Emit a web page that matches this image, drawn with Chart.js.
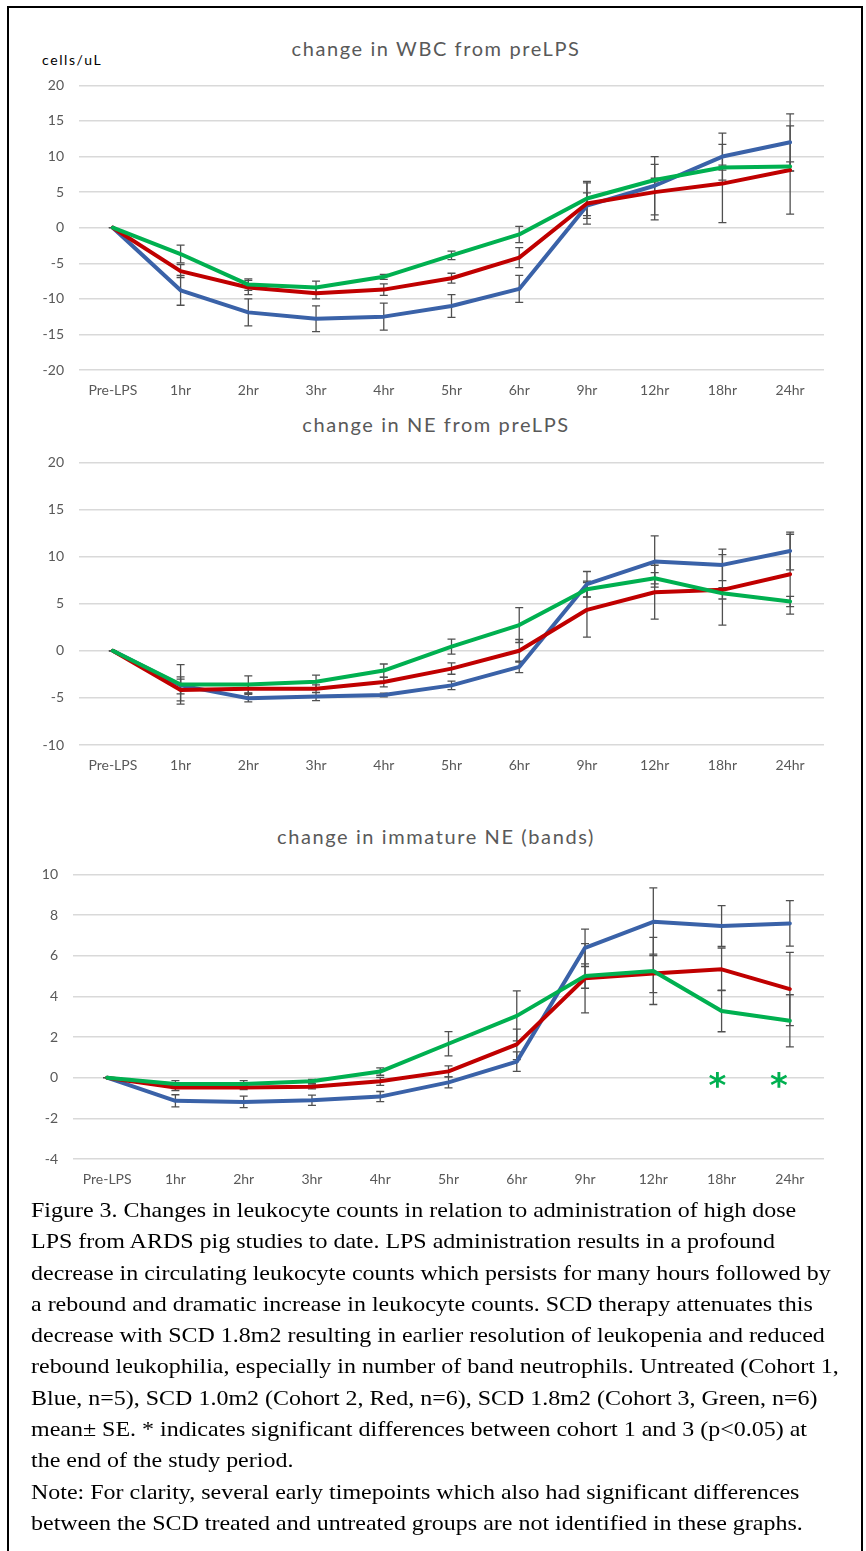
<!DOCTYPE html>
<html>
<head>
<meta charset="utf-8">
<script src="https://cdn.jsdelivr.net/npm/chart.js@4.4.1/dist/chart.umd.min.js"></script>
<style>
  html, body { margin: 0; padding: 0; background: #fff; }
  body { width: 866px; height: 1551px; position: relative; overflow: hidden; }
  .frame { position: absolute; left: 7px; top: 6px; width: 852px; height: 1600px; border: 2px solid #000; }
  canvas { position: absolute; left: 0; }
  .title { position: absolute; left: 0; width: 872px; text-align: center; font-family: Lato, sans-serif;
           font-size: 20px; line-height: 20px; color: #595959; letter-spacing: 1.6px; white-space: nowrap; }
  .unit { position: absolute; left: 42px; top: 53px; font-family: Lato, sans-serif; font-size: 14px;
          line-height: 14px; color: #000; letter-spacing: 1.6px; }
  .caption { position: absolute; left: 31px; top: 1194px; font-family: "Liberation Serif", "Times New Roman", serif;
             font-size: 22px; line-height: 31.3px; color: #000; transform: scaleX(1.09); transform-origin: 0 0; }
  .caption div { white-space: nowrap; }
</style>
</head>
<body>
<div class="frame"></div>

<div class="title" style="top:38px">change in WBC from preLPS</div>
<div class="unit">cells/uL</div>
<canvas id="wbc" width="866" height="348" style="top:62px"></canvas>

<div class="title" style="top:414px">change in NE from preLPS</div>
<canvas id="ne" width="866" height="346" style="top:439px"></canvas>

<div class="title" style="top:826px">change in immature NE (bands)</div>
<canvas id="bands" width="866" height="348" style="top:851px"></canvas>

<div class="caption">
  <div>Figure 3. Changes in leukocyte counts in relation to administration of high dose</div>
  <div>LPS from ARDS pig studies to date. LPS administration results in a profound</div>
  <div>decrease in circulating leukocyte counts which persists for many hours followed by</div>
  <div>a rebound and dramatic increase in leukocyte counts. SCD therapy attenuates this</div>
  <div>decrease with SCD 1.8m2 resulting in earlier resolution of leukopenia and reduced</div>
  <div>rebound leukophilia, especially in number of band neutrophils. Untreated (Cohort 1,</div>
  <div>Blue, n=5), SCD 1.0m2 (Cohort 2, Red, n=6), SCD 1.8m2 (Cohort 3, Green, n=6)</div>
  <div>mean± SE. * indicates significant differences between cohort 1 and 3 (p&lt;0.05) at</div>
  <div>the end of the study period.</div>
  <div>Note: For clarity, several early timepoints which also had significant differences</div>
  <div>between the SCD treated and untreated groups are not identified in these graphs.</div>
</div>

<script>
// Sampling times
const timepoints = ['Pre-LPS', '1hr', '2hr', '3hr', '4hr', '5hr', '6hr', '9hr', '12hr', '18hr', '24hr'];

// Change in WBC from preLPS (mean and SE)
const wbcUntreated   = [0, -8.8, -11.9, -12.8, -12.5, -11.0, -8.6, 3.1, 5.9, 10.0, 12.0];
const wbcUntreatedSE = [0, 2.1, 1.9, 1.8, 1.9, 1.6, 1.9, 1.8, 4.1, 3.3, 4.0];
const wbcScd10       = [0, -6.1, -8.4, -9.2, -8.7, -7.1, -4.2, 3.4, 5.0, 6.2, 8.1];
const wbcScd10SE     = [0, 0.9, 1.0, 0.8, 0.8, 0.7, 1.4, 2.9, 3.9, 5.5, 6.2];
const wbcScd18       = [0, -3.7, -8.0, -8.4, -6.9, -3.9, -0.95, 4.1, 6.7, 8.45, 8.6];
const wbcScd18SE     = [0, 1.25, 0.8, 0.9, 0.35, 0.6, 1.15, 2.4, 0.25, 0.35, 0.65];

// Change in NE from preLPS
const neUntreated   = [0, -3.67, -5.03, -4.86, -4.69, -3.67, -1.71, 7.07, 9.47, 9.12, 10.6];
const neUntreatedSE = [0, 0.9, 0.4, 0.42, 0.2, 0.45, 0.6, 1.35, 2.72, 1.68, 2.0];
const neScd10       = [0, -4.16, -4.02, -4.02, -3.32, -1.89, 0, 4.35, 6.22, 6.47, 8.13];
const neScd10SE     = [0, 1.15, 0.5, 0.4, 0.5, 0.6, 1.2, 2.9, 2.86, 3.75, 4.24];
const neScd18       = [0, -3.57, -3.57, -3.29, -2.1, 0.45, 2.73, 6.54, 7.7, 6.1, 5.23];
const neScd18SE     = [0, 2.1, 0.9, 0.7, 0.7, 0.8, 1.85, 0.85, 0.6, 0.6, 0.55];

// Change in immature NE (bands)
const bandsUntreated   = [0, -1.14, -1.19, -1.11, -0.93, -0.23, 0.79, 6.39, 7.67, 7.46, 7.59];
const bandsUntreatedSE = [0, 0.3, 0.28, 0.25, 0.25, 0.27, 0.48, 0.92, 1.67, 1.0, 1.12];
const bandsScd10       = [0, -0.48, -0.48, -0.45, -0.18, 0.31, 1.64, 4.89, 5.13, 5.33, 4.36];
const bandsScd10SE     = [0, 0.15, 0.1, 0.1, 0.2, 0.27, 0.75, 1.7, 0.95, 1.05, 1.8];
const bandsScd18       = [0, -0.31, -0.31, -0.18, 0.3, 1.67, 3.04, 5.0, 5.25, 3.28, 2.8];
const bandsScd18SE     = [0, 0.17, 0.17, 0.1, 0.18, 0.6, 1.23, 0.6, 1.65, 1.02, 1.28];

// Significance markers (cohort 1 vs 3) on the bands chart: category position and value
const bandsSigAt    = [8.94, 9.84];
const bandsSigValue = [-0.12, -0.12];

const cohortColors = { untreated: '#3A62A8', scd10: '#C00000', scd18: '#00B050' };

Chart.defaults.font.family = 'Lato, sans-serif';
Chart.defaults.font.size = 14;
Chart.defaults.color = '#595959';

// Mean ± SE whiskers, drawn beneath the lines
const errorBars = {
  id: 'errorBars',
  beforeDatasetsDraw(chart) {
    const { ctx, scales: { x, y } } = chart;
    ctx.save();
    ctx.strokeStyle = '#505050';
    ctx.lineWidth = 1.3;
    chart.data.datasets.forEach(ds => {
      if (!ds.errors) return;
      ds.data.forEach((v, i) => {
        const e = ds.errors[i];
        if (e == null) return;
        const px = x.getPixelForValue(i);
        const top = y.getPixelForValue(v + e);
        const bot = y.getPixelForValue(v - e);
        ctx.beginPath();
        ctx.moveTo(px, top); ctx.lineTo(px, bot);
        ctx.moveTo(px - 4, top); ctx.lineTo(px + 4, top);
        ctx.moveTo(px - 4, bot); ctx.lineTo(px + 4, bot);
        ctx.stroke();
      });
    });
    ctx.restore();
  }
};

// Green asterisks marking significant differences
const sigMarks = {
  id: 'sigMarks',
  afterDatasetsDraw(chart, args, opts) {
    if (!opts.at) return;
    const { ctx, scales: { x, y } } = chart;
    ctx.save();
    ctx.fillStyle = cohortColors.scd18;
    ctx.font = 'bold 34px "DejaVu Sans", sans-serif';
    ctx.textAlign = 'center';
    ctx.textBaseline = 'alphabetic';
    opts.at.forEach((a, i) => {
      const px = x.getPixelForValue(a);
      const py = y.getPixelForValue(opts.value[i]);
      ctx.fillText('*', px, py + 17);
    });
    ctx.restore();
  }
};

function series(label, data, errors, color, order) {
  return {
    label, data, errors,
    borderColor: color, backgroundColor: color,
    borderWidth: 4, pointRadius: 0, tension: 0, order,
    borderCapStyle: 'round', borderJoinStyle: 'round'
  };
}

function makeChart(id, sets, yMin, yMax, step, axisWidth, sig) {
  return new Chart(document.getElementById(id), {
    type: 'line',
    data: {
      labels: timepoints,
      datasets: [
        series('Untreated', sets[0], sets[1], cohortColors.untreated, 2),
        series('SCD 1.0m2', sets[2], sets[3], cohortColors.scd10, 1),
        series('SCD 1.8m2', sets[4], sets[5], cohortColors.scd18, 0)
      ]
    },
    options: {
      responsive: false,
      animation: false,
      events: [],
      layout: { padding: { top: 0, right: 42, left: 0, bottom: 0 } },
      plugins: {
        legend: { display: false },
        tooltip: { enabled: false },
        sigMarks: sig || {}
      },
      scales: {
        x: {
          offset: true,
          grid: { display: false, drawTicks: false },
          border: { display: false },
          ticks: { padding: 12, maxRotation: 0, autoSkip: false, color: '#595959' },
          afterFit: s => { s.height = 40; }
        },
        y: {
          min: yMin, max: yMax,
          grid: { color: '#d9d9d9', lineWidth: 1.4, drawTicks: false },
          border: { display: false },
          ticks: { stepSize: step, padding: 15, color: '#595959' },
          afterFit: s => { s.width = axisWidth; }
        }
      }
    },
    plugins: [errorBars, sigMarks]
  });
}

makeChart('wbc',
  [wbcUntreated, wbcUntreatedSE, wbcScd10, wbcScd10SE, wbcScd18, wbcScd18SE],
  -20, 20, 5, 79);
makeChart('ne',
  [neUntreated, neUntreatedSE, neScd10, neScd10SE, neScd18, neScd18SE],
  -10, 20, 5, 79);
makeChart('bands',
  [bandsUntreated, bandsUntreatedSE, bandsScd10, bandsScd10SE, bandsScd18, bandsScd18SE],
  -4, 10, 2, 73, { at: bandsSigAt, value: bandsSigValue });
</script>
</body>
</html>
